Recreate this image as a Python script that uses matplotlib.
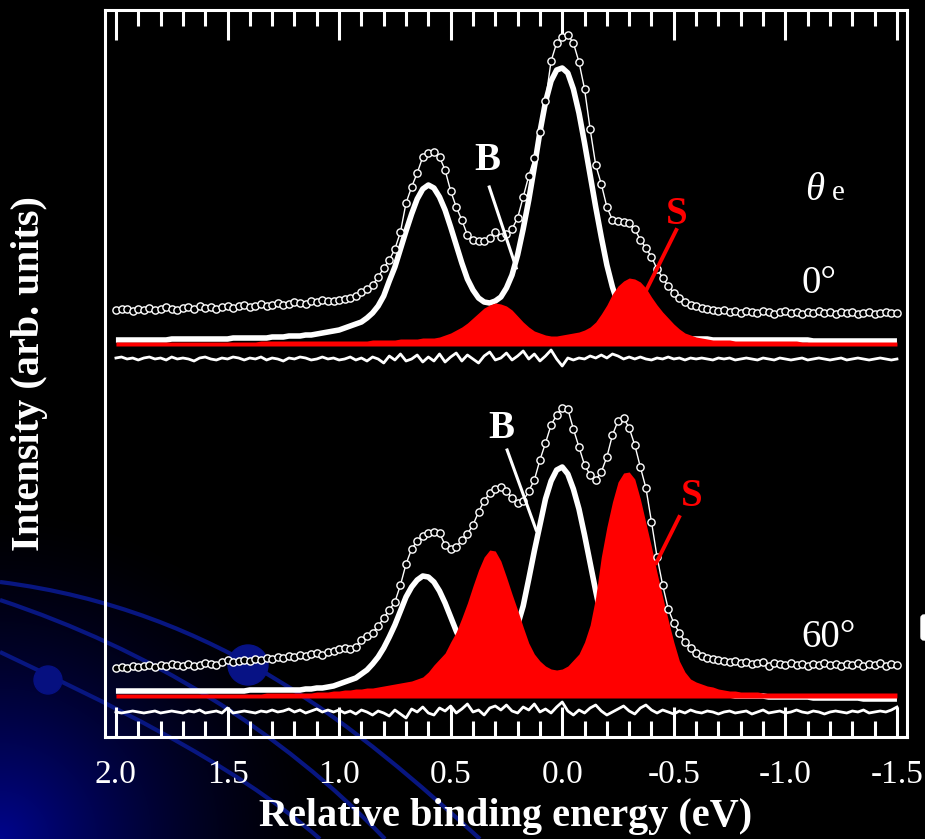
import numpy as np
import matplotlib
matplotlib.use("Agg")
import matplotlib.pyplot as plt
from matplotlib.path import Path
from matplotlib.patches import PathPatch, Circle, FancyBboxPatch

plt.rcParams['font.family'] = ['Liberation Serif', 'DejaVu Serif']

# ---------------- data (energy grid in eV, intensities in arb. units) ----------------
energy = np.round(np.linspace(2.0, -1.5, 141), 3)

data_0deg = [
    427, 428, 428, 426, 428, 427, 429, 427, 428, 430,
    428, 427, 429, 430, 428, 431, 429, 430, 428, 430,
    431, 429, 431, 432, 430, 431, 433, 431, 432, 434,
    432, 433, 435, 434, 433, 436, 435, 437, 436,
    436, 437, 438, 439, 441, 445, 448, 452, 460, 469,
    477, 488, 505, 534, 550, 564, 580, 584, 585, 580,
    567, 546, 530, 517, 502, 497, 496, 496, 499, 505,
    500, 503, 508, 519, 540, 561, 579, 605, 636, 676,
    694, 700, 702, 694, 675, 648, 608, 572, 553, 530,
    517, 516, 515, 514, 508, 497, 489, 480, 468, 459,
    451, 444, 439, 435, 432, 431, 429, 428, 427, 426,
    427, 425, 426, 424, 426, 425, 424, 426, 425, 423,
    425, 426, 424, 425, 423, 425, 424, 426, 424, 425,
    423, 425, 424, 425, 423, 424, 425, 423, 424, 425,
    424, 424]

fitB_0deg = [
    397, 397, 397, 397, 397, 397, 397, 397, 397, 397,
    398, 398, 398, 398, 398, 398, 398, 398, 398, 398,
    398, 399, 399, 399, 399, 399, 399, 399, 400, 400,
    400, 401, 401, 401, 402, 402, 403, 404, 405,
    406, 407, 409, 411, 413, 415, 419, 424, 431, 441,
    456, 470, 488, 506, 523, 538, 548, 552, 549, 540,
    527, 510, 492, 474, 458, 447, 439, 435, 434, 436,
    440, 449, 462, 482, 508, 537, 570, 605, 635, 656,
    667, 669, 664, 648, 624, 594, 562, 530, 500, 472,
    450, 433, 420, 412, 406, 403, 401, 400, 399, 399,
    399, 399, 398, 398, 398, 398, 398, 398, 397, 397,
    397, 397, 397, 397, 397, 397, 397, 397, 397, 397,
    397, 397, 397, 397, 397, 397, 396, 396, 396, 396,
    396, 396, 396, 396, 396, 396, 396, 396, 396, 396,
    396, 396]

fitS_0deg = [
    395, 395, 395, 395, 395, 395, 395, 395, 395, 395,
    395, 395, 395, 395, 395, 395, 395, 395, 395, 395,
    395, 395, 395, 395, 395, 395, 396, 396, 396, 396,
    396, 396, 396, 396, 396, 396, 396, 396, 396,
    396, 396, 396, 396, 396, 396, 396, 397, 397, 397,
    397, 397, 398, 398, 398, 398, 399, 399, 399, 400,
    402, 404, 407, 410, 414, 419, 424, 429, 432, 434,
    433, 431, 427, 421, 415, 410, 406, 404, 402, 401,
    401, 402, 403, 404, 405, 407, 410, 415, 423, 432,
    443, 451, 456, 459, 458, 455, 449, 440, 432, 425,
    419, 413, 408, 404, 402, 400, 399, 398, 397, 397,
    397, 397, 396, 396, 396, 396, 396, 396, 396, 396,
    396, 396, 396, 396, 395, 395, 395, 395, 395, 395,
    395, 395, 395, 395, 395, 395, 395, 395, 395, 395,
    395, 395]

res_0deg = [
    379, 380, 378, 379, 377, 379, 380, 378, 379, 377,
    380, 378, 379, 378, 376, 379, 380, 378, 377, 379,
    378, 380, 379, 377, 379, 378, 380, 377, 379, 378,
    376, 379, 378, 380, 379, 377, 378, 380, 378,
    379, 377, 378, 380, 377, 379, 376, 380, 378, 374,
    381, 377, 383, 376, 378, 382, 375, 380, 376, 383,
    375, 380, 384, 376, 382, 378, 374, 381, 385, 377,
    379, 384, 377, 381, 386, 378, 383, 376, 381, 387,
    378, 371, 379, 377, 379, 378, 381, 379, 382, 379,
    383, 381, 378, 380, 378, 380, 378, 377, 379, 378,
    380, 378, 379, 377, 379, 378, 379, 378, 377, 379,
    378, 379, 377, 378, 379, 378, 377, 379, 378, 377,
    379, 378, 377, 378, 379, 377, 378, 379, 378, 377,
    378, 379, 377, 378, 379, 378, 377, 378, 379, 378,
    377, 378]

data_60deg = [
    69, 70, 69, 71, 70, 71, 72, 70, 72, 71,
    73, 72, 71, 73, 71, 72, 74, 73, 72, 75,
    77, 75, 76, 77, 76, 78, 77, 79, 78, 80,
    79, 81, 80, 82, 81, 83, 84, 82, 85,
    86, 88, 89, 88, 90, 97, 101, 104, 111, 119,
    127, 135, 152, 173, 188, 196, 201, 204, 205, 204,
    192, 188, 190, 197, 203, 212, 225, 236, 244, 248,
    250, 246, 239, 234, 236, 246, 257, 277, 294, 312,
    322, 329, 328, 308, 290, 272, 262, 257, 265, 280,
    302, 316, 319, 309, 292, 270, 249, 215, 180, 152,
    128, 114, 104, 95, 89, 84, 81, 79, 78, 77,
    76, 75, 76, 74, 75, 73, 74, 75, 71, 74,
    73, 72, 74, 72, 73, 71, 73, 72, 74, 72,
    73, 71, 73, 72, 74, 71, 73, 72, 74, 71,
    73, 72]

fitB_60deg = [
    46, 46, 46, 46, 46, 46, 46, 46, 46, 46,
    46, 46, 46, 46, 46, 46, 46, 46, 46, 46,
    46, 46, 46, 46, 47, 47, 47, 47, 47, 47,
    47, 47, 47, 47, 48, 48, 49, 49, 50,
    51, 53, 55, 57, 59, 63, 67, 73, 80, 89,
    100, 112, 126, 140, 150, 157, 161, 160, 155, 146,
    134, 120, 106, 94, 84, 76, 71, 69, 70, 74,
    81, 91, 103, 112, 131, 158, 186, 212, 238, 256,
    267, 270, 263, 248, 228, 202, 174, 146, 120, 98,
    80, 67, 58, 52, 49, 47, 46, 45, 45, 44,
    44, 44, 43, 43, 43, 43, 42, 42, 42, 42,
    42, 42, 41, 41, 41, 41, 41, 41, 40, 40,
    40, 40, 40, 40, 40, 40, 39, 39, 39, 39,
    39, 39, 39, 39, 39, 38, 38, 38, 38, 38,
    38, 38]

fitS_60deg = [
    43, 43, 43, 43, 43, 43, 43, 43, 43, 43,
    43, 43, 43, 43, 43, 43, 43, 43, 43, 43,
    43, 43, 43, 43, 43, 43, 43, 44, 44, 44,
    44, 44, 44, 44, 44, 44, 45, 45, 45,
    46, 46, 47, 47, 48, 48, 49, 49, 50, 51,
    52, 53, 54, 55, 56, 58, 60, 65, 72, 78,
    84, 95, 105, 119, 134, 151, 167, 180, 187, 186,
    176, 160, 143, 127, 110, 94, 83, 76, 71, 68,
    67, 68, 71, 77, 83, 95, 112, 140, 180, 210,
    235, 255, 264, 265, 258, 238, 214, 190, 164, 140,
    117, 95, 76, 65, 58, 55, 53, 51, 50, 48,
    47, 46, 46, 45, 45, 45, 45, 44, 44, 44,
    44, 44, 44, 44, 44, 44, 44, 44, 44, 44,
    44, 44, 44, 44, 44, 44, 44, 44, 44, 44,
    44, 44]

res_60deg = [
    25, 24, 25, 26, 25, 24, 25, 26, 24, 25,
    26, 25, 24, 26, 25, 27, 24, 25, 26, 24,
    29, 24, 25, 26, 25, 24, 26, 25, 27, 25,
    26, 28, 25, 27, 24, 26, 28, 25, 27,
    25, 27, 24, 26, 23, 27, 25, 22, 26, 24,
    21, 27, 23, 19, 28, 25, 30, 24, 22, 29,
    26, 31, 24, 28, 33, 25, 27, 22, 29, 31,
    27, 32, 26, 24, 30, 27, 33, 25, 28, 24,
    30, 35, 26, 22, 27, 24, 29, 32, 26, 22,
    25, 28, 31, 26, 23, 29, 32, 27, 24, 27,
    25, 23, 26, 24, 27, 25, 24, 26, 25, 23,
    25, 26, 24, 25, 26, 23, 25, 27, 24, 25,
    26, 24, 25, 27, 25, 24, 26, 25, 23, 25,
    26, 25, 24, 26, 25, 27, 24, 25, 26, 25,
    27, 30]

fill_base_0deg = 391
fill_base_60deg = 39

xticks = [2.0, 1.5, 1.0, 0.5, 0.0, -0.5, -1.0, -1.5]
xtick_labels = ["2.0", "1.5", "1.0", "0.5", "0.0", "-0.5", "-1.0", "-1.5"]

for s in (data_0deg, fitB_0deg, fitS_0deg, res_0deg,
          data_60deg, fitB_60deg, fitS_60deg, res_60deg):
    assert len(s) == len(energy), len(s)

# ---------------- figure ----------------
W, H = 925, 839
fig = plt.figure(figsize=(W / 100, H / 100), dpi=100, facecolor='black')

# slide background decoration
bg = fig.add_axes([0, 0, 1, 1], zorder=0)
bg.set_xlim(0, W)
bg.set_ylim(H, 0)
bg.axis('off')
bg.set_facecolor('black')
yy, xx = np.mgrid[0:H:2, 0:W:2]
dist = np.hypot(xx - 0, yy - H)
inten = np.clip(1 - dist / 340.0, 0, 1) ** 1.6
img = np.zeros(xx.shape + (3,))
img[..., 2] = 0.55 * inten
img[..., 1] = 0.02 * inten
bg.imshow(img, extent=(0, W, H, 0), aspect='auto', interpolation='bilinear', zorder=0)
arc_color = '#081680'
for verts in ([(0, 582), (220, 610), (360, 730), (480, 839)],
              [(0, 600), (150, 650), (280, 730), (385, 839)],
              [(0, 652), (100, 700), (230, 760), (320, 839)]):
    p = Path(verts, [Path.MOVETO, Path.CURVE4, Path.CURVE4, Path.CURVE4])
    bg.add_patch(PathPatch(p, facecolor='none', edgecolor=arc_color, lw=3.0, zorder=1))
bg.add_patch(Circle((48, 680), 14, color='#061080', zorder=2))
bg.add_patch(Circle((248, 665), 20, color='#071285', zorder=2))
bg.add_patch(FancyBboxPatch((921, 615), 8, 25, boxstyle='round,pad=0,rounding_size=3',
                            color='white', zorder=2))

# main axes
ax = fig.add_axes([105 / W, (H - 737) / H, 802 / W, 727 / H], zorder=1)
ax.set_facecolor('none')
ax.set_xlim(2.049, -1.545)
ax.set_ylim(0, 727)

fit_lw = 4.0
for data, fitB, fitS, res, base in ((data_0deg, fitB_0deg, fitS_0deg, res_0deg, fill_base_0deg),
                                    (data_60deg, fitB_60deg, fitS_60deg, res_60deg, fill_base_60deg)):
    ax.plot(energy, fitB, color='white', lw=fit_lw, solid_capstyle='butt', zorder=2)
    ax.fill_between(energy, base, fitS, color='#ff0000', lw=0, zorder=3)
    ax.plot(energy, res, color='white', lw=2.0, zorder=3)
    ax.plot(energy, data, color='white', lw=1.0, marker='o', ms=5.2,
            mfc='black', mec='white', mew=1.0, zorder=4)

# annotations
bold = dict(fontweight='bold', ha='center', va='center', fontsize=28)
ax.text(0.336, 577, 'B', color='white', **bold)
ax.plot([0.327, 0.206], [550, 469], color='white', lw=2.2, zorder=5)
ax.text(-0.515, 522, 'S', color='#ff0000', **bold)
ax.plot([-0.511, -0.377], [507, 447], color='#ff0000', lw=2.8, zorder=5)

ax.text(0.273, 309, 'B', color='white', **bold)
ax.plot([0.247, 0.117], [287, 207], color='white', lw=2.2, zorder=5)
ax.text(-0.578, 241, 'S', color='#ff0000', **bold)
ax.plot([-0.524, -0.421], [220, 174], color='#ff0000', lw=2.8, zorder=5)

ax.text(-1.089, 537, 'θ', color='white', fontsize=28, fontstyle='italic',
        ha='left', va='baseline')
ax.text(-1.210, 537, 'e', color='white', fontsize=21, ha='left', va='baseline')
ax.text(-1.071, 444, '0°', color='white', fontsize=28, ha='left', va='baseline')
ax.text(-1.071, 90, '60°', color='white', fontsize=28, ha='left', va='baseline')

# axes styling
for sp in ax.spines.values():
    sp.set_color('white')
    sp.set_linewidth(2.2)
ax.set_xticks(xticks)
ax.set_xticklabels(xtick_labels)
ax.set_xticks(np.round(np.arange(-1.5, 2.0001, 0.1), 2), minor=True)
ax.tick_params(axis='x', which='both', direction='in', top=True, bottom=True,
               colors='white', width=2.2, labelsize=24, pad=16)
ax.tick_params(axis='x', which='major', length=21.5)
ax.tick_params(axis='x', which='minor', length=11.5)
ax.set_yticks([])
ax.set_xlabel('Relative binding energy (eV)', color='white', fontsize=29,
              fontweight='bold', labelpad=6)
ax.set_ylabel('Intensity (arb. units)', color='white', fontsize=29, fontweight='bold')
ax.yaxis.set_label_coords(-0.071, 0.5)

fig.savefig('out.png', dpi=100, facecolor='black')
